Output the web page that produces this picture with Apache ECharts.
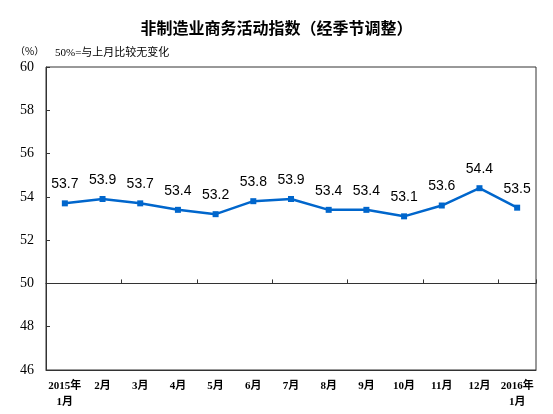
<!DOCTYPE html>
<html>
<head>
    <meta charset="UTF-8">
    <title>非制造业商务活动指数</title>
    <script src="https://cdn.jsdelivr.net/npm/echarts@6/dist/echarts.min.js"></script>
    <style>
        html, body { margin: 0; padding: 0; background: #fff; }
        #chart { width: 553px; height: 414px; }
    </style>
</head>
<body>
<div id="chart"></div>
<script type="text/javascript">
    // 数据
    var months = ['2015年\n1月', '2月', '3月', '4月', '5月', '6月', '7月', '8月', '9月', '10月', '11月', '12月', '2016年\n1月'];
    var indexValues = [53.7, 53.9, 53.7, 53.4, 53.2, 53.8, 53.9, 53.4, 53.4, 53.1, 53.6, 54.4, 53.5];
    var yMin = 46, yMax = 60, yStep = 2;
    var baseLine = 50; // 50%=与上月比较无变化

    var gridTop = 67, gridBottom = 44;
    var gridH = 414 - gridTop - gridBottom;
    // 50线相对底边的像素偏移
    var baseOffset = -(baseLine - yMin) / (yMax - yMin) * gridH;

    var serif = '"Liberation Serif", "Noto Sans CJK SC", serif';

    var myChart = echarts.init(document.getElementById('chart'));
    var option = {
        animation: false,
        title: [{
            text: '非制造业商务活动指数（经季节调整）',
            left: 'center',
            top: 15,
            textStyle: { fontSize: 16, fontWeight: 'bold', color: '#000', fontFamily: '"Noto Sans CJK SC", sans-serif' }
        }, {
            text: '（%）',
            left: 10,
            top: 41,
            textStyle: { fontSize: 10, fontWeight: 'normal', color: '#000', fontFamily: '"Noto Sans CJK SC", sans-serif' }
        }, {
            text: '50%=与上月比较无变化',
            left: 50,
            top: 43,
            textStyle: { fontSize: 11, fontWeight: 'normal', color: '#000', fontFamily: serif }
        }],
        grid: {
            left: 46, right: 17, top: gridTop, bottom: gridBottom,
            show: true,
            borderColor: '#333',
            borderWidth: 1
        },
        xAxis: [{
            type: 'category',
            data: months,
            boundaryGap: true,
            axisLine: { lineStyle: { color: '#333' } },
            axisTick: { show: false },
            axisLabel: {
                interval: 0,
                margin: 8,
                fontSize: 11,
                fontWeight: 'bold',
                lineHeight: 16,
                color: '#000',
                fontFamily: serif
            }
        }, {
            type: 'category',
            data: months,
            boundaryGap: true,
            position: 'bottom',
            offset: baseOffset,
            axisLine: { lineStyle: { color: '#333', width: 1.2 } },
            axisTick: { show: true, inside: true, length: 4, lineStyle: { color: '#333' } },
            axisLabel: { show: false }
        }],
        yAxis: {
            type: 'value',
            min: yMin,
            max: yMax,
            interval: yStep,
            axisLine: { show: true, lineStyle: { color: '#333' } },
            axisTick: { show: true, inside: true, length: 4, lineStyle: { color: '#333' } },
            splitLine: { show: false },
            axisLabel: { fontSize: 14, color: '#000', margin: 12, fontFamily: serif }
        },
        series: [{
            type: 'line',
            data: indexValues,
            symbol: 'rect',
            symbolSize: 6,
            lineStyle: { color: '#0066CC', width: 2.5 },
            itemStyle: { color: '#0066CC' },
            label: {
                show: true,
                position: 'top',
                distance: 9,
                fontSize: 14,
                color: '#000',
                fontFamily: '"Liberation Sans", Arial, sans-serif',
                formatter: function (p) { return p.value.toFixed(1); }
            }
        }]
    };
    myChart.setOption(option);
</script>
</body>
</html>
